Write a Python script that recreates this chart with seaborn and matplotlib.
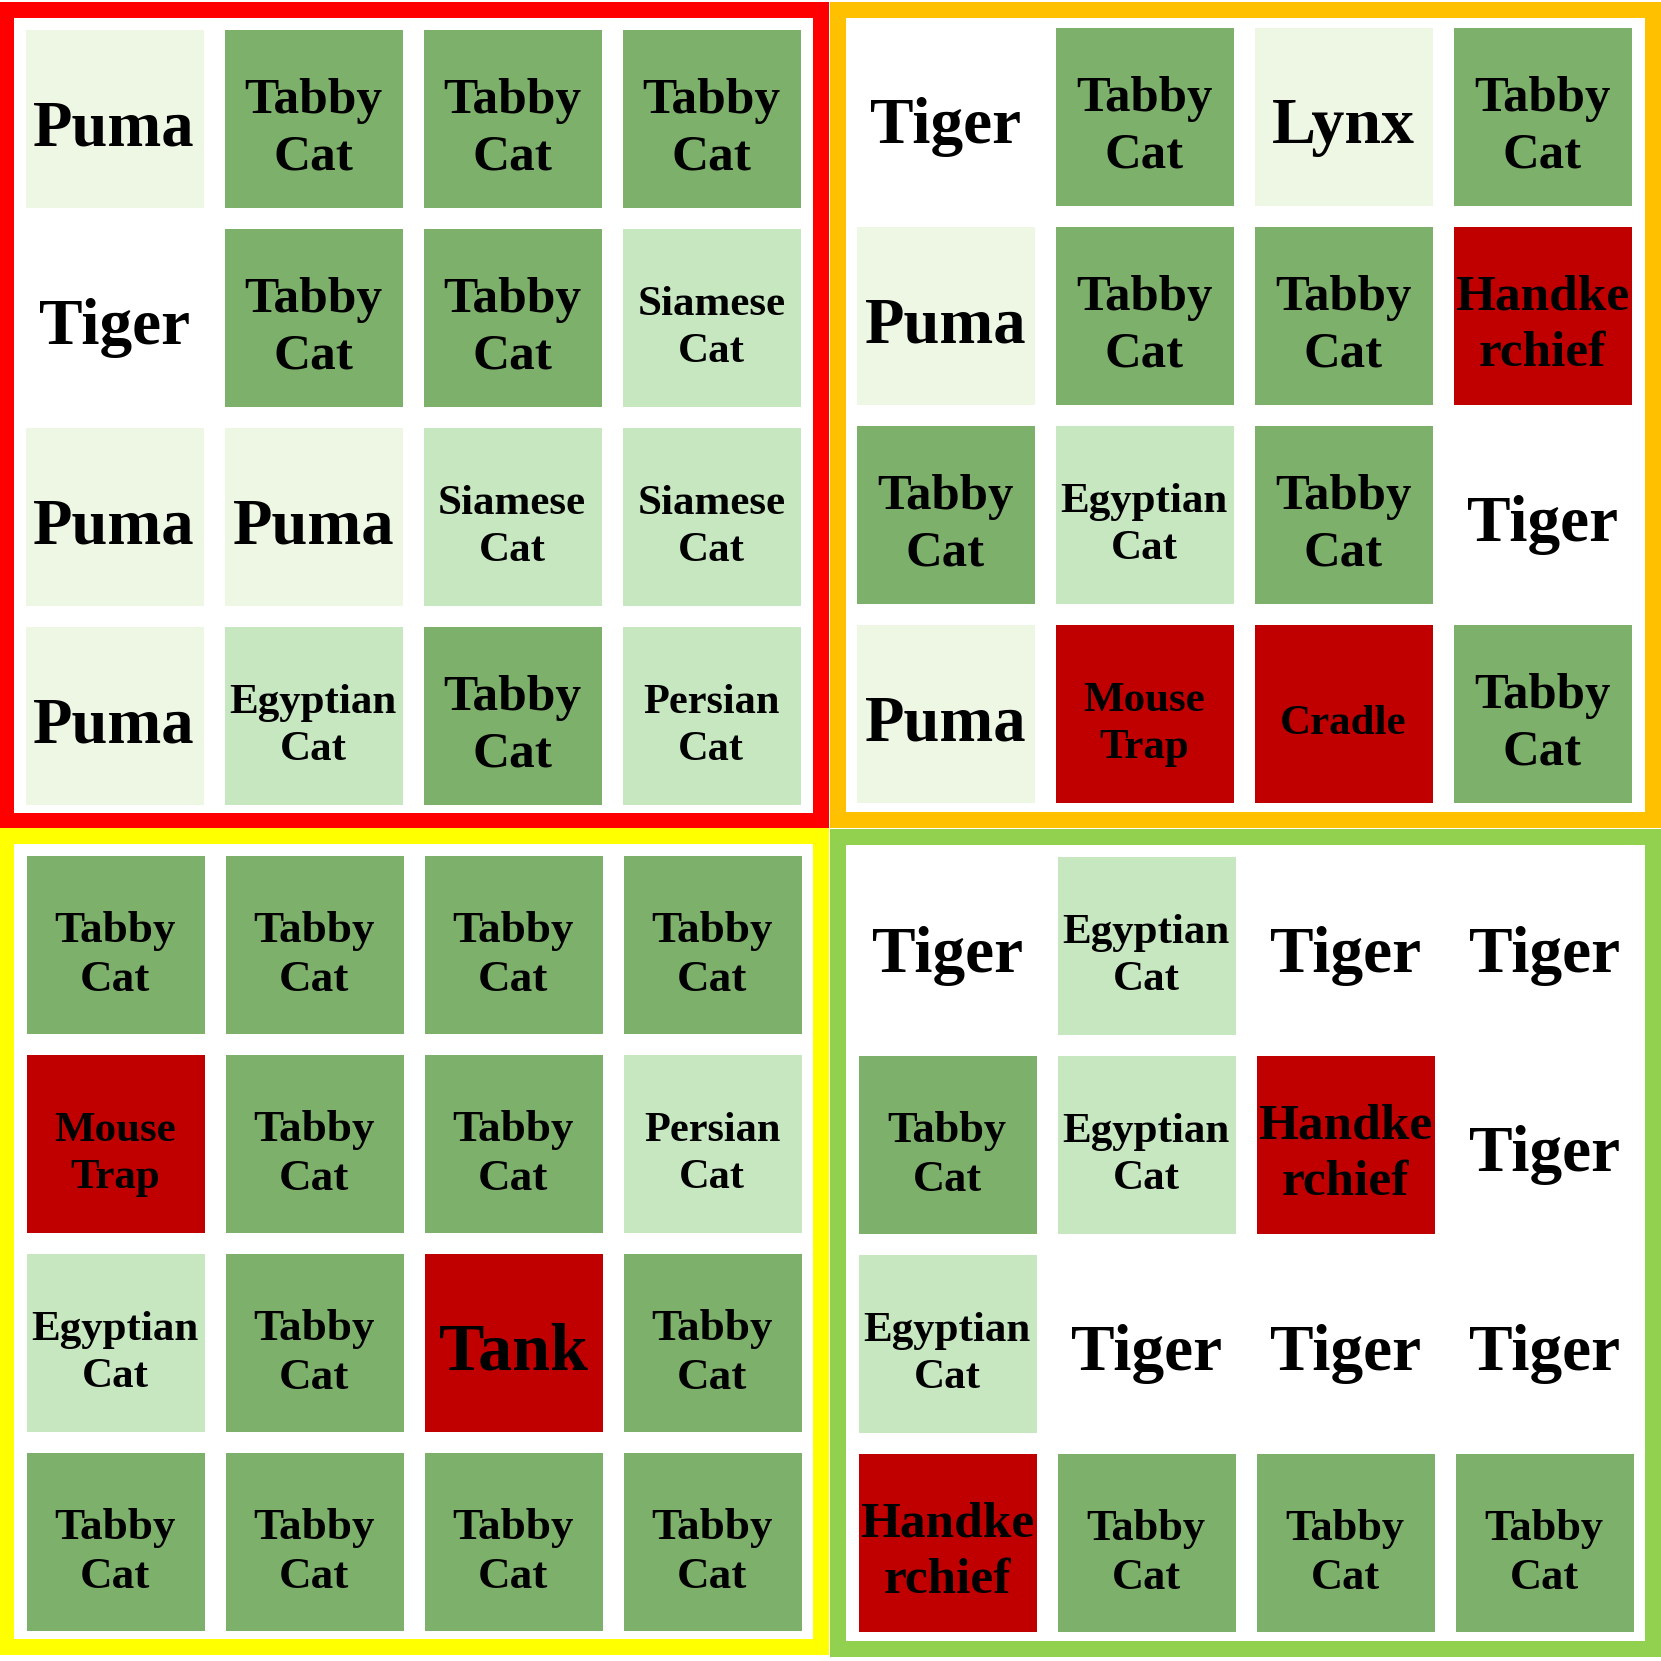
import numpy as np
import matplotlib
matplotlib.use("Agg")
import matplotlib.pyplot as plt
from matplotlib.colors import ListedColormap
from matplotlib.patches import Rectangle
import seaborn as sns

sns.set_theme(style="white")
plt.rcParams['font.family'] = ['Liberation Serif', 'DejaVu Serif']

# ---- data ----
categories = ["Tiger", "Puma", "Lynx", "Siamese Cat", "Egyptian Cat", "Persian Cat",
              "Tabby Cat", "Handkerchief", "Mouse Trap", "Cradle", "Tank"]
category_colors = ["#FFFFFF", "#EEF7E4", "#EEF7E4", "#C6E7C0", "#C6E7C0", "#C6E7C0",
                   "#7DB16B", "#C00000", "#C00000", "#C00000", "#C00000"]
display_text = {"Tabby Cat": "Tabby\nCat", "Siamese Cat": "Siamese\nCat",
                "Egyptian Cat": "Egyptian\nCat", "Persian Cat": "Persian\nCat",
                "Handkerchief": "Handke\nrchief", "Mouse Trap": "Mouse\nTrap"}
font_sizes = {"Tiger": 47, "Puma": 46.5, "Lynx": 47.5, "Siamese Cat": 31, "Egyptian Cat": 31,
              "Persian Cat": 30.5, "Tabby Cat": 37, "Handkerchief": 37, "Mouse Trap": 31,
              "Cradle": 31, "Tank": 49}

panel_red = [["Puma", "Tabby Cat", "Tabby Cat", "Tabby Cat"],
             ["Tiger", "Tabby Cat", "Tabby Cat", "Siamese Cat"],
             ["Puma", "Puma", "Siamese Cat", "Siamese Cat"],
             ["Puma", "Egyptian Cat", "Tabby Cat", "Persian Cat"]]
panel_orange = [["Tiger", "Tabby Cat", "Lynx", "Tabby Cat"],
                ["Puma", "Tabby Cat", "Tabby Cat", "Handkerchief"],
                ["Tabby Cat", "Egyptian Cat", "Tabby Cat", "Tiger"],
                ["Puma", "Mouse Trap", "Cradle", "Tabby Cat"]]
panel_yellow = [["Tabby Cat", "Tabby Cat", "Tabby Cat", "Tabby Cat"],
                ["Mouse Trap", "Tabby Cat", "Tabby Cat", "Persian Cat"],
                ["Egyptian Cat", "Tabby Cat", "Tank", "Tabby Cat"],
                ["Tabby Cat", "Tabby Cat", "Tabby Cat", "Tabby Cat"]]
panel_green = [["Tiger", "Egyptian Cat", "Tiger", "Tiger"],
               ["Tabby Cat", "Egyptian Cat", "Handkerchief", "Tiger"],
               ["Egyptian Cat", "Tiger", "Tiger", "Tiger"],
               ["Handkerchief", "Tabby Cat", "Tabby Cat", "Tabby Cat"]]
panels = [panel_red, panel_orange, panel_yellow, panel_green]
border_colors = ["#FF0000", "#FFC000", "#FFFF00", "#92D050"]
tabby_sizes = [37, 36.5, 32.5, 32]

# ---- layout (pixels, origin top-left) ----
W = H = 1661
DPI = 100
PITCH = 199.0
GAP = 20.5
first_cell = [(25, 29), (856, 27), (26, 855), (858, 856)]
border_boxes = [(-2, 2, 829, 829), (830, 2, 1661, 828), (-2, 828, 829, 1655), (830, 829, 1661, 1657)]
BORDER = 16
TEXT_DY = 0.055

fig = plt.figure(figsize=(W / DPI, H / DPI), dpi=DPI)
fig.patch.set_facecolor("white")

cmap = ListedColormap(category_colors)
code = {c: i for i, c in enumerate(categories)}
lw_pt = GAP * 72 / DPI

for k, grid in enumerate(panels):
    x0, y0 = first_cell[k]
    left = x0 - GAP / 2
    top = y0 - GAP / 2
    size = 4 * PITCH
    ax = fig.add_axes([left / W, 1 - (top + size) / H, size / W, size / H])
    codes = np.array([[code[c] for c in row] for row in grid])
    sns.heatmap(codes, cmap=cmap, vmin=-0.5, vmax=len(categories) - 0.5, cbar=False,
                linewidths=lw_pt, linecolor="white", xticklabels=False, yticklabels=False,
                square=False, ax=ax)
    ax.set_xlabel("")
    ax.set_ylabel("")
    for i, row in enumerate(grid):
        for j, c in enumerate(row):
            fs = tabby_sizes[k] if c == "Tabby Cat" else font_sizes[c]
            ax.text(j + 0.5, i + 0.5 + TEXT_DY, display_text.get(c, c), ha="center", va="center",
                    fontsize=fs, fontweight="bold", color="black", linespacing=1.3,
                    family=["Liberation Serif", "DejaVu Serif"])
    for s in ax.spines.values():
        s.set_visible(False)

    bx0, by0, bx1, by1 = border_boxes[k]
    rect = Rectangle(((bx0 + BORDER / 2) / W, 1 - (by1 - BORDER / 2) / H),
                     (bx1 - bx0 - BORDER) / W, (by1 - by0 - BORDER) / H,
                     transform=fig.transFigure, fill=False, edgecolor=border_colors[k],
                     linewidth=BORDER * 72 / DPI, joinstyle="miter", zorder=10)
    fig.patches.append(rect)

fig.savefig("out.png", dpi=DPI, facecolor="white")
